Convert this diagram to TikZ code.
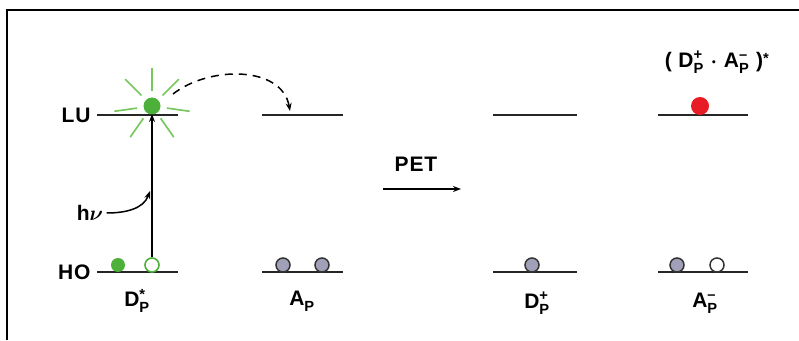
\documentclass[tikz,border=0pt]{standalone}
\usepackage{amsmath,bm}
\usepackage{fontspec}
\setmainfont[LetterSpace=4]{Liberation Sans}
\usetikzlibrary{arrows.meta,positioning}

\definecolor{elgreen}{RGB}{76,176,58}
\definecolor{elray}{RGB}{120,200,95}
\definecolor{elred}{RGB}{232,28,36}
\definecolor{elgrey}{RGB}{160,160,184}

\newcommand{\orb}[2]{#1$_{\text{\bfseries P}}^{\text{\bfseries #2}}$}
\newcommand{\stary}{\raisebox{-.45ex}{*}}

\begin{document}
\begin{tikzpicture}[
    %–––– GLOBAL STYLE TWEAKS ––––
    x=1pt, y=1pt,
    font=\fontsize{21}{24}\selectfont\bfseries,
    >={Stealth[length=8pt,width=6pt]},
    orbital/.style = {line width=1.8pt, black!85},
    elec/.style    = {circle, inner sep=0pt, minimum size=14pt},
    fullel/.style  = {elec, fill=elgreen},
    holeel/.style  = {elec, draw=elgreen, line width=1.6pt, fill=white},
    greyel/.style  = {elec, draw=black!80, line width=1.5pt, fill=elgrey},
    openel/.style  = {elec, draw=black!80, line width=1.5pt, fill=white},
    ray/.style     = {elray, line width=1.7pt},
    arrow/.style   = {->, line width=1.5pt},
]
\useasboundingbox (0,0) rectangle (799,340);

%–––– FRAME ––––
\draw[line width=2pt] (7,0) -- (7,330) -- (799,330);

%–––– ORBITAL LEVELS ––––
\foreach \name/\xa/\xb in {d/97/178, a/262/343, dp/493/577, am/658/748} {
  \draw[orbital] (\xa,225) coordinate (\name-lu-l) -- (\xb,225) coordinate (\name-lu-r);
  \draw[orbital] (\xa,68)  coordinate (\name-ho-l) -- (\xb,68)  coordinate (\name-ho-r);
}

\node (lu) [left=3pt of d-lu-l] {LU};
\node (ho) [left=3pt of d-ho-l] {HO};

%–––– EXCITED DONOR ––––
\foreach \ang in {90,45,135,188,-8,-55,-125}
  \draw[ray] (152,234) ++(\ang:15) -- ++(\ang:23);
\node (exc)   [fullel, minimum size=17pt] at (152,234) {};
\node (d-ho1) [fullel] at (118,75) {};
\node (d-ho2) [holeel] at (152,75) {};

\coordinate (d-hit) at (152,226);
\draw[arrow] (d-ho2) -- (d-hit);

\node (hnu) at (90,127) {h$\bm{\nu}$};
\coordinate (hnu-end) at (150,149);
\draw[arrow] (hnu.east) to[out=0,in=-110] (hnu-end);

\coordinate (jump-start) at (173,246);
\coordinate (a-hit) at (290,229);
\draw[arrow, dash pattern=on 8pt off 6pt] (jump-start) to[out=38,in=100] (a-hit);

%–––– ACCEPTOR ––––
\node (a-ho1) [greyel] at (283,75) {};
\node (a-ho2) [greyel] at (322,75) {};

%–––– PET ––––
\node (pet) at (416,176) {PET};
\coordinate (pet-l) at (383,151);
\coordinate (pet-r) at (461,151);
\draw[arrow] (pet-l) -- (pet-r);

%–––– RADICAL ION PAIR ––––
\node (dp-ho1) [greyel] at (532,75) {};
\node (am-ho1) [greyel] at (677,75) {};
\node (am-ho2) [openel] at (717,75) {};
\node (am-lu)  [elec, minimum size=18pt, fill=elred] at (700,234) {};

%–––– LABELS ––––
\node (lab-d)  at (137,39) {\orb{D}{\stary}};
\node (lab-a)  at (302,39) {\orb{A}{}};
\node (lab-dp) at (537,37) {\orb{D}{+}};
\node (lab-am) at (705,37) {\orb{A}{--}};
\node (lab-pair) at (717,278) {(\ \orb{D}{+}\ $\bm{\cdot}$\ \orb{A}{--}\ )$^{\text{\bfseries\stary}}$};
\end{tikzpicture}
\end{document}
